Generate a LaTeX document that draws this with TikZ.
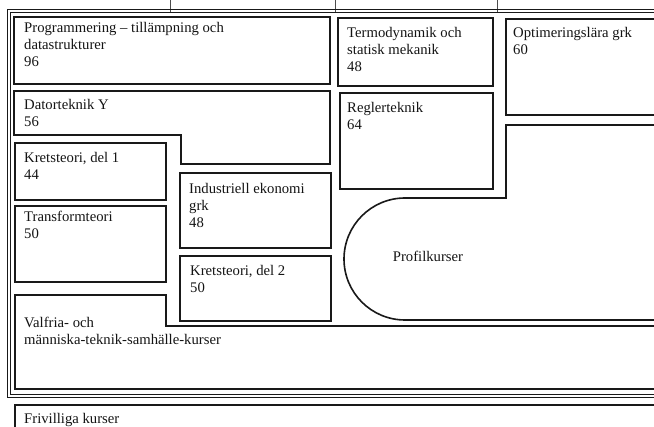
\documentclass[tikz,border=0pt]{standalone}
\usepackage{fontspec}
\setmainfont{Liberation Serif}
\begin{document}
\begin{tikzpicture}[x=1pt,y=-1pt,
  box/.style={draw=black!90,line width=1.6pt},
  outerframe/.style={draw=black!90,line width=1pt},
  tick/.style={draw=black!70,line width=0.6pt},
  lbl/.style={anchor=north west,inner sep=0pt,align=left,text=black!92,
    font=\fontsize{14.7}{17}\selectfont}]
\useasboundingbox (0,0) rectangle (654,427);
\clip (0,0) rectangle (654,427);
% ticks at top
\draw[tick] (170,0) -- (170,12);
\draw[tick] (335,0) -- (335,12);
\draw[tick] (497,0) -- (497,12);
% outer frame (double line)
\draw[outerframe] (7.5,10) rectangle (680,398);
\draw[outerframe] (10.5,13) rectangle (680,395);
% left column
\draw[box] (14,17) rectangle (330,84);
\draw[box] (14,91) -- (330,91) -- (330,164) -- (181,164) -- (181,135) -- (14,135) -- cycle;
\draw[box] (15,143) rectangle (166,200);
\draw[box] (15,206) rectangle (166,282);
\draw[box] (180,173) rectangle (331,248);
\draw[box] (180,256) rectangle (331,321);
% right column
\draw[box] (338,18) rectangle (493,86);
\draw[box] (340,93) rectangle (493,189);
\draw[box] (506,19) rectangle (680,115);
\draw[box] (680,125) -- (506,125) -- (506,198) -- (405,198) arc (270:90:61) -- (680,320);
% Valfria
\draw[box] (680,326) -- (166,326) -- (166,295) -- (15,295) -- (15,389) -- (680,389);
% Frivilliga
\draw[box] (15,405) rectangle (680,450);
% texts
\node[lbl] (prog) at (24,22) {Programmering -- tillämpning och\\datastrukturer\\96};
\node[lbl] (dator) at (24,99) {Datorteknik Y\\56};
\node[lbl] (krets1) at (24,152) {Kretsteori, del 1\\44};
\node[lbl] (trans) at (24,211) {Transformteori\\50};
\node[lbl] (indek) at (189,183) {Industriell ekonomi\\grk\\48};
\node[lbl] (krets2) at (190,265) {Kretsteori, del 2\\50};
\node[lbl] (valf) at (24,317) {Valfria- och\\människa-teknik-samhälle-kurser};
\node[lbl] (friv) at (24,413) {Frivilliga kurser};
\node[lbl] (termo) at (347,27) {Termodynamik och\\statisk mekanik\\48};
\node[lbl] (regl) at (347,102) {Reglerteknik\\64};
\node[lbl] (optim) at (513,27) {Optimeringslära grk\\60};
\node[lbl,anchor=center] (profil) at (428,256) {Profilkurser};
\end{tikzpicture}
\end{document}
